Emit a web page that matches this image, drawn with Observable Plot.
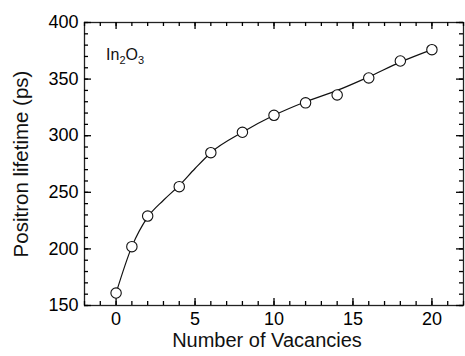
<!DOCTYPE html>
<html>
<head>
<meta charset="utf-8">
<script src="https://cdn.jsdelivr.net/npm/d3@7"></script>
<script src="https://cdn.jsdelivr.net/npm/@observablehq/plot@0.6"></script>
<style>
  html, body { margin: 0; padding: 0; background: #fff; }
  #chart svg { display: block; }
</style>
</head>
<body>
<div id="chart"></div>
<script>
// Measured data points
const vacancies = [0, 1, 2, 4, 6, 8, 10, 12, 14, 16, 18, 20];
const lifetime  = [161, 202, 229, 255, 285, 303, 318, 329, 336, 351, 366, 376];

// Fitted curve
const fitX = [0, 1, 2, 3, 4, 5, 6, 8, 10, 12, 14, 16, 18, 20];
const fitY = [161, 202, 228, 243, 256, 271, 285, 303, 318, 330, 340, 352, 365, 376];

// Tick labels
const xTicks = [0, 5, 10, 15, 20];
const yTicks = [150, 200, 250, 300, 350, 400];
const xMinor = d3.range(-2, 23, 1);
const yMinor = d3.range(150, 401, 10);

const xTitle = "Number of Vacancies";
const yTitle = "Positron lifetime (ps)";

const points = vacancies.map((v, i) => ({x: v, y: lifetime[i]}));
const fit = fitX.map((v, i) => ({x: v, y: fitY[i]}));

const font = "'Liberation Sans', Arial, Helvetica, sans-serif";
const tickColor = "#000";

const W = 465, H = 356, mL = 84, mR = 2, mT = 22, mB = 51;
const frameW = W - mL - mR, frameH = H - mT - mB;

// inward ticks drawn as short rules hugging each side of the frame
function inwardTicks(data, side, len) {
  const common = {stroke: tickColor, strokeWidth: 1.3};
  if (side === "bottom") return Plot.ruleX(data, {x: d => d, insetTop: frameH - len, ...common});
  if (side === "top") return Plot.ruleX(data, {x: d => d, insetBottom: frameH - len, ...common});
  if (side === "left") return Plot.ruleY(data, {y: d => d, insetRight: frameW - len, ...common});
  return Plot.ruleY(data, {y: d => d, insetLeft: frameW - len, ...common});
}

const plot = Plot.plot({
  width: W,
  height: H,
  marginLeft: mL,
  marginRight: mR,
  marginTop: mT,
  marginBottom: mB,
  style: {fontFamily: font, fontSize: "18px"},
  x: {domain: [-2, 22]},
  y: {domain: [150, 400]},
  marks: [
    Plot.frame({stroke: "#222", strokeWidth: 1.3}),
    inwardTicks(xMinor, "bottom", 4),
    inwardTicks(xMinor, "top", 4),
    inwardTicks(yMinor, "left", 4),
    inwardTicks(yMinor, "right", 4),
    inwardTicks(xTicks, "bottom", 7),
    inwardTicks(xTicks, "top", 7),
    inwardTicks(yTicks, "left", 7),
    inwardTicks(yTicks, "right", 7),
    // tick labels
    Plot.axisX(xTicks, {anchor: "bottom", tickSize: 0, tickPadding: 7, label: null, fontSize: 18}),
    Plot.axisY(yTicks, {anchor: "left", tickSize: 0, tickPadding: 6, label: null, fontSize: 18}),
    Plot.line(fit, {x: "x", y: "y", curve: "monotone-x", stroke: "#111", strokeWidth: 1.2}),
    Plot.dot(points, {x: "x", y: "y", r: 5.2, fill: "#fff", stroke: "#111", strokeWidth: 1.1}),
    Plot.text([xTitle], {frameAnchor: "bottom", dx: -7, dy: 41, fontSize: 20, fill: "#111", textAnchor: "middle"}),
    Plot.text([yTitle], {frameAnchor: "left", rotate: -90, dx: -63.5, fontSize: 20.5, fill: "#111", textAnchor: "middle"})
  ]
});

// In2O3 label with subscripts
const sx = plot.scale("x"), sy = plot.scale("y");
const label = d3.select(plot).append("text")
  .attr("x", sx.apply(0.6))
  .attr("y", sy.apply(366))
  .attr("font-family", font)
  .attr("font-size", 16)
  .attr("fill", "#111");
label.append("tspan").text("In");
label.append("tspan").attr("dy", 4).attr("font-size", 11).text("2");
label.append("tspan").attr("dy", -4).text("O");
label.append("tspan").attr("dy", 4).attr("font-size", 11).text("3");

document.getElementById("chart").appendChild(plot);
</script>
</body>
</html>
